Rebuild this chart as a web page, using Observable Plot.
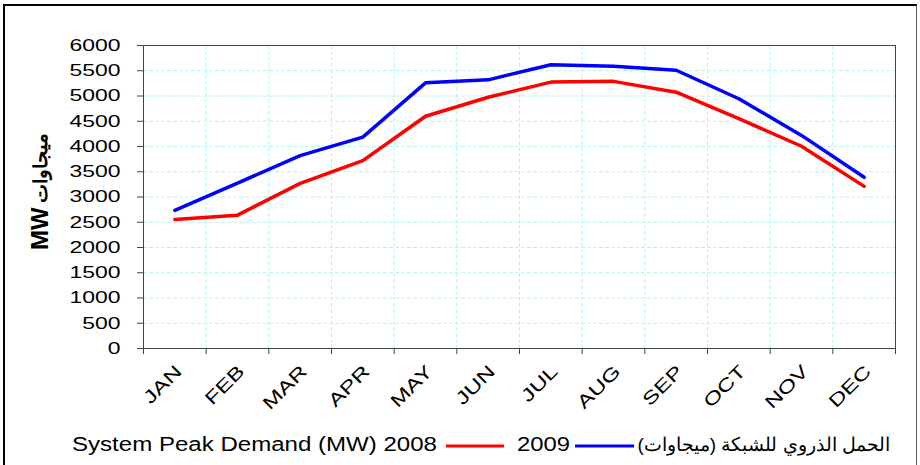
<!DOCTYPE html>
<html>
<head>
<meta charset="utf-8">
<script src="https://cdn.jsdelivr.net/npm/d3@7"></script>
<script src="https://cdn.jsdelivr.net/npm/@observablehq/plot@0.6"></script>
<style>
  html, body { margin: 0; padding: 0; background: #fff; }
  #wrap { position: relative; width: 920px; height: 465px; overflow: hidden; background: #fff;
          font-family: "Liberation Sans", Arial, sans-serif; }
  #border { position: absolute; left: 3px; top: 4px; width: 914px; height: 500px;
            border-left: 2px solid #000; border-top: 2px solid #000; border-right: 1px solid #555; box-sizing: border-box; }
  #chart { position: absolute; left: 0; top: 0; }
  #legend { position: absolute; left: 0; top: 420px; }
</style>
</head>
<body>
<div id="wrap">
  <div id="border"></div>
  <div id="chart"></div>
  <svg id="legend" width="920" height="45" xmlns="http://www.w3.org/2000/svg"></svg>
</div>
<script>
const months = ["JAN","FEB","MAR","APR","MAY","JUN","JUL","AUG","SEP","OCT","NOV","DEC"];
const demand2008 = [2555, 2640, 3270, 3720, 4600, 4975, 5275, 5290, 5075, 4550, 4005, 3210];
const demand2009 = [2735, 3275, 3820, 4185, 5260, 5320, 5620, 5590, 5510, 4945, 4220, 3390];
const yTicks = [0, 500, 1000, 1500, 2000, 2500, 3000, 3500, 4000, 4500, 5000, 5500, 6000];
const yLabelEn = "MW";
const yLabelAr = "ميجاوات";
const legendTitleEn = "System Peak Demand (MW)";
const legendTitleAr = "الحمل الذروي للشبكة (ميجاوات)";
const seriesNames = ["2008", "2009"];
const seriesColors = ["#ff0000", "#0000ff"];

const rows2008 = months.map((m, i) => ({i: i + 0.5, v: demand2008[i]}));
const rows2009 = months.map((m, i) => ({i: i + 0.5, v: demand2009[i]}));

const gridStyle = {stroke: "#b6f5f5", strokeOpacity: 1, strokeDasharray: "4,2", strokeWidth: 1};

const chart = Plot.plot({
  width: 920,
  height: 420,
  marginLeft: 143,
  marginRight: 25,
  marginTop: 45,
  marginBottom: 72,
  style: {fontFamily: "'Liberation Sans', Arial, sans-serif", fontSize: "17px", color: "#000", background: "transparent"},
  x: {type: "linear", domain: [0, 12]},
  y: {domain: [0, 6000]},
  marks: [
    Plot.gridY(yTicks.slice(1), gridStyle),
    Plot.gridX(d3.range(1, 12), gridStyle),
    Plot.frame({stroke: "#444"}),
    Plot.axisY(yTicks, {tickSize: 6, tickPadding: 17, stroke: "#444", label: null, fontSize: 17,
      tickFormat: d => String(d)}),
    Plot.axisX(d3.range(13), {tickSize: 6, tickFormat: () => "", label: null, stroke: "#444"}),
    Plot.axisX(months.map((m, i) => i + 0.5), {
      tickSize: 0, tickRotate: -45, tickPadding: 20, dx: 4,
      tickFormat: d => months[Math.floor(d)], label: null, fontSize: 18
    }),
    Plot.line(rows2008, {x: "i", y: "v", stroke: seriesColors[0], strokeWidth: 3.5, strokeLinejoin: "miter"}),
    Plot.line(rows2009, {x: "i", y: "v", stroke: seriesColors[1], strokeWidth: 3.5, strokeLinejoin: "miter"}),
    Plot.text([yLabelEn], {text: d => d, frameAnchor: "left", rotate: -90, textAnchor: "start",
      dx: -103, dy: 53, fontWeight: "bold", fontSize: 24, fill: "#000"}),
    Plot.text([yLabelAr], {text: d => d, frameAnchor: "left", rotate: -90, textAnchor: "start",
      dx: -103, dy: 6, fontWeight: "bold", fontSize: 19, fill: "#000"})
  ]
});
document.getElementById("chart").appendChild(chart);

function stretchEl(t, fn) {
  const w = t.getComputedTextLength();
  if (w > 0) {
    t.setAttribute("textLength", fn(w));
    t.setAttribute("lengthAdjust", "spacingAndGlyphs");
  }
}
// stretch text horizontally like the original (wide typeface)
chart.querySelectorAll('g[aria-label="y-axis tick label"] text').forEach(t => stretchEl(t, w => w * 1.35));
chart.querySelectorAll('g[aria-label="x-axis tick label"] text').forEach(t => stretchEl(t, w => w * 1.35));
chart.querySelectorAll('text').forEach(t => {
  if (t.textContent === yLabelAr) stretchEl(t, () => 70);
});

// legend
const ns = "http://www.w3.org/2000/svg";
const lg = document.getElementById("legend");
function addText(str, x, y, opts = {}) {
  const t = document.createElementNS(ns, "text");
  t.textContent = str;
  t.setAttribute("x", x);
  t.setAttribute("y", y);
  t.setAttribute("font-size", opts.size || 20);
  t.setAttribute("font-family", "'Liberation Sans', Arial, sans-serif");
  t.setAttribute("fill", "#000");
  if (opts.anchor) t.setAttribute("text-anchor", opts.anchor);
  if (opts.dir) t.setAttribute("direction", opts.dir);
  lg.appendChild(t);
  if (opts.len) {
    t.setAttribute("textLength", opts.len);
    t.setAttribute("lengthAdjust", "spacingAndGlyphs");
  }
  return t;
}
function addLine(x1, x2, y, color) {
  const l = document.createElementNS(ns, "line");
  l.setAttribute("x1", x1); l.setAttribute("x2", x2);
  l.setAttribute("y1", y); l.setAttribute("y2", y);
  l.setAttribute("stroke", color); l.setAttribute("stroke-width", 3);
  lg.appendChild(l);
}
addText(legendTitleEn + " " + seriesNames[0], 72, 31, {len: 365});
addLine(446, 504, 26, seriesColors[0]);
addText(seriesNames[1], 517, 31, {len: 53});
addLine(575, 634, 26, seriesColors[1]);
addText(legendTitleAr, 890, 31, {anchor: "start", dir: "rtl", size: 19});
</script>
</body>
</html>
